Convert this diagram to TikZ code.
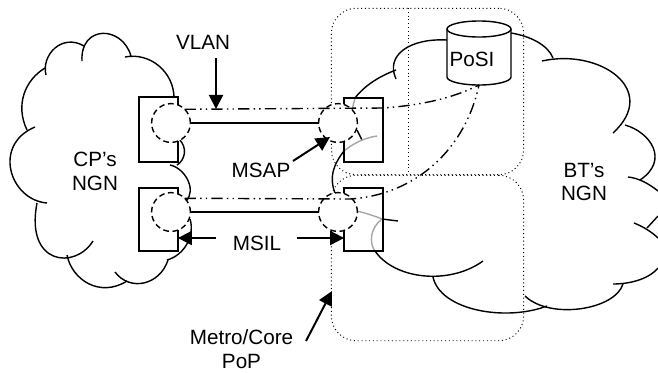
\documentclass[tikz,border=0pt]{standalone}
\usepackage{fontspec}
\setmainfont{Liberation Sans}
\usetikzlibrary{arrows.meta}
\tikzset{
  cloudline/.style={line width=1pt},
  cloudgray/.style={line width=1pt,gray!70},
  sapbox/.style={draw,line width=1pt,minimum width=27.6pt,inner sep=0pt,outer sep=0pt},
  sapcircle/.style={circle,draw,fill=white,dash pattern=on 4pt off 2.6pt,line width=1pt,minimum size=27.6pt,inner sep=0pt,outer sep=0pt},
  popbox/.style={draw,dotted,line width=0.7pt,rounded corners=17.7pt,minimum width=136.8pt,inner sep=0pt,outer sep=0pt},
  popline/.style={dotted,line width=0.7pt},
  vlanline/.style={line width=1pt,dash pattern=on 8pt off 3pt on 1pt off 3pt on 1pt off 3pt},
  callout/.style={line width=1.4pt,-{Triangle[length=10pt,width=10pt]}},
  lbl/.style={font=\fontsize{14.7}{17}\selectfont,align=center,inner sep=0pt}
}
\begin{document}
\begin{tikzpicture}[x=0.25mm,y=-0.25mm]
    \useasboundingbox (0,0) rectangle (658,372);
    % CP cloud
    \draw[cloudline] (46,75) .. controls (41,55) and (62,33) .. (84,46);
    \draw[cloudline] (82,61) .. controls (80,25) and (122,25) .. (131,56);
    \draw[cloudline] (125,57) .. controls (150,52) and (174,72) .. (174,98);
    \draw[cloudline] (179,139) .. controls (188,148) and (185,160) .. (177,165);
    \draw[cloudline] (170,165) .. controls (185,168) and (197,190) .. (186,201);
    \draw[cloudline] (190,219) .. controls (195,235) and (185,255) .. (167,260);
    \draw[cloudline] (168,260) .. controls (160,285) and (130,292) .. (115,272);
    \draw[cloudline] (127,281) .. controls (100,298) and (72,280) .. (67,255);
    \draw[cloudline] (93,241) .. controls (75,270) and (25,265) .. (37,203);
    \draw[cloudline] (47,203) .. controls (10,200) and (-8,145) .. (35,127);
    \draw[cloudline] (27,130) .. controls (15,105) and (25,80) .. (45,68);
    % BT cloud
    \draw[cloudline] (355,98) .. controls (365,85) and (380,76) .. (396,70);
    \draw[cloudline] (396,79) .. controls (385,55) and (410,38) .. (447,40);
    \draw[cloudline] (511,33) .. controls (530,36) and (548,45) .. (553,58);
    \draw[cloudline] (542,61) .. controls (600,48) and (660,90) .. (613,133);
    \draw[cloudline] (625,125) .. controls (650,132) and (670,160) .. (640,180);
    \draw[cloudline] (628,177) .. controls (638,178) and (648,183) .. (658,191);
    \draw[cloudline] (647,228) -- (658,216);
    \draw[cloudline] (634,223) .. controls (642,226) and (652,232) .. (658,238);
    \draw[cloudline] (658,268) .. controls (650,278) and (632,284) .. (613,284);
    \draw[cloudline] (623,284) .. controls (615,310) and (550,320) .. (525,296);
    \draw[cloudline] (547,306) .. controls (505,322) and (440,310) .. (433,277);
    \draw[cloudline] (483,261) .. controls (450,285) and (395,280) .. (375,251);
    \draw[cloudline] (382,219) -- (398,221);
    \draw[cloudline] (357,130) -- (362,140);
    \draw[cloudline] (344,151) .. controls (333,165) and (329,178) .. (335,193);
    % parts of the cloud seen through the boxes
    \draw[cloudgray] (355,98) -- (352,110);
    \draw[cloudgray] (344,151) .. controls (350,146) and (362,138) .. (377,136);
    \draw[cloudgray] (357,211) .. controls (365,213) and (375,216) .. (382,219);
    \draw[cloudgray] (382,219) .. controls (370,228) and (369,243) .. (375,251);
    % PoPs
    \node[popbox,minimum height=118.4pt] (popA) at (427.5,91.5) {};
    \node[popbox,minimum height=117.7pt] (popB) at (427.5,258) {};
    \coordinate (divA) at (408,8);
    \coordinate (divB) at (408,175);
    \draw[popline] (divA) -- (divB);
    % boxes and circles
    \node[sapbox,minimum height=46.1pt] (cpboxA) at (158.5,129.5) {};
    \node[sapbox,minimum height=44.7pt] (cpboxB) at (158.5,219.5) {};
    \node[sapbox,minimum height=45.4pt] (btboxA) at (363.5,130) {};
    \node[sapbox,minimum height=44.7pt] (btboxB) at (363.5,219.5) {};
    \node[sapcircle] (cpsapA) at (171,123) {};
    \node[sapcircle] (cpsapB) at (171,212) {};
    \node[sapcircle] (btsapA) at (338,123) {};
    \node[sapcircle] (btsapB) at (338,212) {};
    % PoSI drum
    \draw[line width=1pt,fill=white] (447,29) -- (447,77) arc[x radius=32,y radius=8,start angle=180,end angle=0] -- (511,29);
    \draw[line width=1pt,fill=white] (479,29) ellipse[x radius=32,y radius=8];
    \coordinate (posi) at (479,85);
    \node[lbl] (posilabel) at (472,59) {PoSI};
    % links
    \draw[line width=1pt] (cpsapA) -- (btsapA);
    \draw[line width=1pt] (cpsapB) -- (btsapB);
    \coordinate (bendA) at (383,108);
    \coordinate (bendB) at (350,199);
    \draw[vlanline] (cpsapA.45) -- (bendA) .. controls (425,105) and (455,97) .. (posi);
    \draw[vlanline] (cpsapB.45) -- (bendB) .. controls (415,195) and (465,150) .. (posi);
    % labels
    \node[lbl] (cplabel) at (95,171) {CP’s\\NGN};
    \node[lbl] (btlabel) at (584,182) {BT’s\\NGN};
    \node[lbl] (vlan) at (203,42) {VLAN};
    \node[lbl] (msap) at (261,170) {MSAP};
    \node[lbl] (msil) at (257,243) {MSIL};
    \node[lbl] (metro) at (241.5,349) {Metro/Core\\PoP};
    % arrows
    \coordinate (vlanstart) at (216,58);
    \coordinate (vlantip) at (216,109);
    \coordinate (msapstart) at (293,161);
    \coordinate (msaptip) at (330,137);
    \coordinate (msilleft) at (216,238);
    \coordinate (msilright) at (297,238);
    \coordinate (metrostart) at (306,341);
    \coordinate (metrotip) at (332,291);
    \draw[callout] (vlanstart) -- (vlantip);
    \draw[callout] (msapstart) -- (msaptip);
    \draw[callout] (msilleft) -- (msilleft -| cpboxB.east);
    \draw[callout] (msilright) -- (msilright -| btboxB.west);
    \draw[callout] (metrostart) -- (metrotip);
\end{tikzpicture}
\end{document}
